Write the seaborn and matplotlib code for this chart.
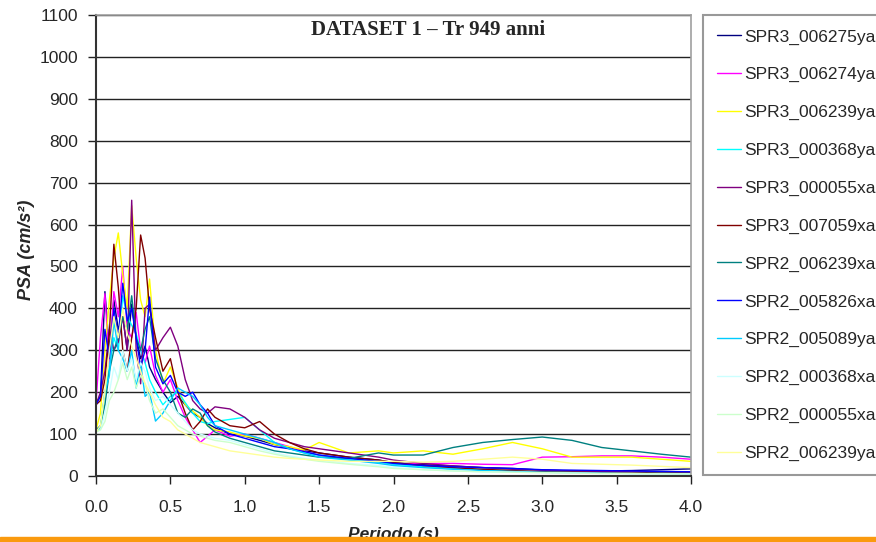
import numpy as np
import pandas as pd
import matplotlib
matplotlib.use("Agg")
import matplotlib.pyplot as plt
import seaborn as sns
from matplotlib.patches import Rectangle

# ---------------- data ----------------
periods = [0.0, 0.03, 0.06, 0.09, 0.12, 0.15, 0.18, 0.21, 0.24, 0.27, 0.30, 0.33, 0.36,
           0.40, 0.45, 0.50, 0.55, 0.60, 0.65, 0.70, 0.75, 0.80, 0.90, 1.0, 1.1, 1.2, 1.3,
           1.4, 1.5, 1.7, 1.9, 2.0, 2.2, 2.4, 2.6, 2.8, 3.0, 3.2, 3.4, 3.6, 3.8, 4.0]

series_names = ["SPR3_006275ya", "SPR3_006274ya", "SPR3_006239ya", "SPR3_000368ya",
                "SPR3_000055xa", "SPR3_007059xa", "SPR2_006239xa", "SPR2_005826xa",
                "SPR2_005089ya", "SPR2_000368xa", "SPR2_000055xa", "SPR2_006239ya"]

spr3_006275ya = [175, 190, 440, 300, 420, 350, 380, 300, 410, 330, 280, 310, 260, 230, 200, 175, 190, 170, 150, 140, 125,
                 115, 100, 95, 85, 75, 68, 60, 55, 45, 38, 32, 27, 24, 20, 18, 14, 12, 12, 13, 15, 17]
spr3_006274ya = [175, 330, 435, 260, 440, 380, 500, 350, 330, 390, 300, 270, 310, 240, 200, 230, 180, 140, 110, 80, 95,
                 110, 95, 100, 90, 80, 70, 58, 50, 40, 33, 28, 30, 30, 28, 27, 45, 46, 48, 48, 45, 40]
spr3_006239ya = [110, 150, 300, 420, 520, 580, 480, 400, 645, 520, 420, 380, 470, 300, 220, 260, 210, 170, 155, 140, 120,
                 110, 105, 95, 90, 75, 70, 62, 80, 55, 60, 55, 60, 52, 65, 80, 65, 45, 45, 45, 40, 35]
spr3_000368ya = [105, 115, 200, 260, 330, 300, 430, 380, 360, 340, 300, 270, 230, 200, 170, 190, 200, 175, 150, 130, 125,
                 130, 135, 140, 110, 80, 65, 55, 50, 40, 33, 28, 22, 18, 15, 13, 10, 9, 8, 8, 7, 7]
spr3_000055xa = [170, 200, 250, 350, 300, 320, 380, 300, 658, 300, 220, 400, 410, 300, 330, 355, 310, 230, 180, 160, 150,
                 165, 160, 140, 110, 90, 80, 70, 65, 55, 45, 38, 30, 24, 20, 16, 14, 12, 11, 10, 10, 10]
spr3_007059xa = [170, 180, 230, 340, 553, 450, 300, 250, 330, 400, 575, 520, 400, 330, 250, 280, 200, 150, 110, 130, 160,
                 140, 120, 115, 130, 100, 80, 65, 55, 45, 38, 32, 25, 20, 16, 13, 10, 9, 8, 8, 7, 7]
spr2_006239xa = [110, 120, 170, 250, 300, 330, 380, 350, 430, 330, 300, 350, 380, 280, 230, 200, 150, 140, 160, 150, 120,
                 105, 90, 80, 70, 60, 55, 50, 45, 42, 55, 50, 50, 68, 80, 87, 93, 85, 68, 60, 52, 45]
spr2_005826xa = [170, 190, 350, 280, 400, 330, 460, 370, 400, 330, 260, 300, 427, 260, 220, 240, 200, 190, 200, 170, 150,
                 120, 100, 90, 80, 70, 65, 58, 50, 42, 35, 30, 25, 22, 20, 18, 15, 14, 13, 12, 11, 10]
spr2_005089ya = [105, 115, 200, 240, 370, 300, 280, 250, 300, 210, 270, 190, 200, 131, 150, 180, 210, 200, 190, 170, 140,
                 120, 110, 100, 90, 80, 65, 55, 45, 38, 30, 25, 20, 16, 13, 11, 9, 8, 7, 6, 6, 5]
spr2_000368xa = [105, 110, 150, 200, 260, 230, 300, 250, 280, 230, 270, 250, 210, 180, 190, 170, 150, 130, 110, 100, 95,
                 90, 85, 75, 65, 55, 48, 42, 38, 30, 25, 20, 15, 12, 10, 9, 8, 7, 6, 6, 5, 5]
spr2_000055xa = [105, 110, 130, 180, 200, 230, 270, 230, 260, 210, 240, 220, 180, 150, 160, 140, 120, 110, 100, 95, 90,
                 85, 80, 70, 60, 52, 45, 40, 35, 28, 22, 18, 15, 12, 10, 9, 8, 7, 6, 6, 5, 5]
spr2_006239ya = [105, 120, 200, 300, 380, 330, 400, 340, 310, 280, 250, 220, 200, 170, 140, 130, 110, 100, 90, 80, 75,
                 70, 60, 55, 50, 45, 42, 40, 38, 35, 35, 35, 33, 35, 40, 45, 40, 30, 28, 26, 23, 20]

all_values = [spr3_006275ya, spr3_006274ya, spr3_006239ya, spr3_000368ya, spr3_000055xa, spr3_007059xa,
              spr2_006239xa, spr2_005826xa, spr2_005089ya, spr2_000368xa, spr2_000055xa, spr2_006239ya]

colors = ["#000080", "#FF00FF", "#FFFF00", "#00FFFF", "#800080", "#800000",
          "#008080", "#0000FF", "#00CCFF", "#CCFFFF", "#CCFFCC", "#FFFF99"]

x_ticks = [0.0, 0.5, 1.0, 1.5, 2.0, 2.5, 3.0, 3.5, 4.0]
y_ticks = list(range(0, 1101, 100))

rows = []
for name, vals in zip(series_names, all_values):
    for t, v in zip(periods, vals):
        rows.append({"Periodo": t, "PSA": v, "serie": name})
df = pd.DataFrame(rows)

# ---------------- plot ----------------
sns.set_style("white")
plt.rcParams["font.family"] = ["Liberation Sans", "DejaVu Sans"]

fig = plt.figure(figsize=(8.76, 5.42), dpi=100)
ax = fig.add_axes([96 / 876, 1 - 476 / 542, (691 - 96) / 876, (476 - 15) / 542])

ax.set_axisbelow(True)
for y in y_ticks[1:]:
    ax.axhline(y, color="#222222", lw=1.0, zorder=0)

sns.lineplot(data=df, x="Periodo", y="PSA", hue="serie", hue_order=series_names,
             palette=dict(zip(series_names, colors)), estimator=None, sort=False,
             lw=1.0, ax=ax)

ax.set_xlim(0, 4.0)
ax.set_ylim(0, 1100)
ax.set_xticks(x_ticks)
ax.set_xticklabels([f"{t:.1f}" for t in x_ticks], fontsize=12.5)
ax.set_yticks(y_ticks)
ax.set_yticklabels([str(v) for v in y_ticks], fontsize=12.5)
ax.tick_params(axis="both", direction="out", length=6, width=1, color="#222222",
               bottom=True, left=True)
ax.tick_params(axis="y", pad=7)
ax.tick_params(axis="x", pad=11)

for side in ["left", "bottom"]:
    ax.spines[side].set_color("#333333")
    ax.spines[side].set_linewidth(1.5)
for side in ["top", "right"]:
    ax.spines[side].set_color("#A0A0A0")
    ax.spines[side].set_linewidth(1.2)

ax.set_xlabel("Periodo (s)", fontsize=12.5, fontweight="bold", fontstyle="italic")
ax.set_ylabel("PSA (cm/s²)", fontsize=13, fontweight="bold", fontstyle="italic")
ax.xaxis.set_label_coords(0.5, -(527 - 476) / 461)
ax.yaxis.set_label_coords(-(96 - 18) / 595, 0.49)
ax.yaxis.label.set_va("top")

ax.text(0.558, 0.99, "DATASET 1 – Tr 949 anni", transform=ax.transAxes, ha="center", va="top",
        fontsize=15, fontweight="bold", family=["Liberation Serif", "DejaVu Serif"])

handles, labels = ax.get_legend_handles_labels()
if ax.get_legend() is not None:
    ax.get_legend().remove()
leg = fig.legend(handles, labels, loc="upper left", bbox_to_anchor=(703 / 876, 1 - 15 / 542),
                 frameon=True, fancybox=False, fontsize=12.5, labelspacing=1.30,
                 handlelength=1.35, handletextpad=0.2, borderpad=0.82, borderaxespad=0)
leg.get_frame().set_edgecolor("#808080")
leg.get_frame().set_linewidth(1.5)
for h in leg.get_lines():
    h.set_linewidth(1.0)

fig.patches.append(Rectangle((0, 0), 1, 5 / 542, transform=fig.transFigure,
                             color="#FA9A0E", zorder=10))

fig.savefig("out.png", dpi=100)
